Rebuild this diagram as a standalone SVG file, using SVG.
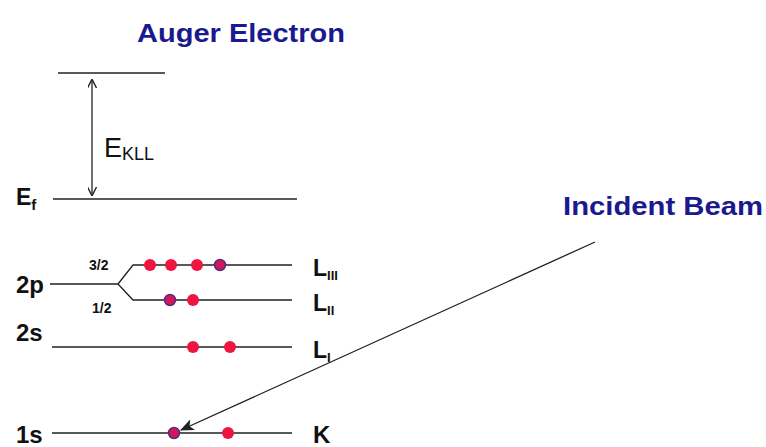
<svg xmlns="http://www.w3.org/2000/svg" width="766" height="447" viewBox="0 0 766 447">
<style>
.ln{stroke:#222;stroke-width:1.3;fill:none}
.t{font-family:"Liberation Sans",Arial,sans-serif;fill:#111}
.b{font-weight:bold}
.title{font-family:"Liberation Sans",Arial,sans-serif;font-weight:bold;fill:#1a1a8e;font-size:25px}
.e{fill:#ee1540}
.h{fill:#d0185a;stroke:#5a2a80;stroke-width:1.5}
</style>
<defs>
<marker id="ah" viewBox="0 0 10 10" refX="9" refY="5" markerWidth="9" markerHeight="9" markerUnits="userSpaceOnUse" orient="auto-start-reverse">
<path d="M0,0 L10,5 L0,10" fill="none" stroke="#222" stroke-width="1.5"/>
</marker>
<marker id="ah2" viewBox="0 0 12 10" refX="11" refY="5" markerWidth="14" markerHeight="12" markerUnits="userSpaceOnUse" orient="auto">
<path d="M0,0 L12,5 L0,10 L3,5 Z" fill="#222"/>
</marker>
</defs>
<rect width="766" height="447" fill="#fff"/>
<text class="title" x="137" y="42" textLength="208" lengthAdjust="spacingAndGlyphs">Auger Electron</text>
<text class="title" x="563" y="215" textLength="200" lengthAdjust="spacingAndGlyphs">Incident Beam</text>

<g id="vacuum"><line class="ln" x1="58" y1="73" x2="165" y2="73"/></g>
<g id="ef">
<line class="ln" x1="53" y1="199" x2="297" y2="199"/>
<text class="t b" x="16" y="205" font-size="23">E<tspan font-size="15" dy="5">f</tspan></text>
</g>
<g id="ekll">
<text class="t" x="104" y="157" font-size="27">E<tspan font-size="18" dy="3">KLL</tspan></text>
</g>
<g id="p2">
<text class="t b" x="16" y="293" font-size="24">2p</text>
<polyline class="ln" points="50,284 118,284 133,265 292,265"/>
<polyline class="ln" points="118,284 133,300 292,300"/>
<text class="t b" x="89" y="270" font-size="14">3/2</text>
<text class="t b" x="92" y="313" font-size="14">1/2</text>
<circle class="e" cx="150" cy="265" r="6"/>
<circle class="e" cx="171" cy="265" r="6"/>
<circle class="e" cx="197" cy="265" r="6"/>
<circle class="h" cx="220" cy="265" r="5.5"/>
<circle class="h" cx="170" cy="300" r="5.5"/>
<circle class="e" cx="193" cy="300" r="6"/>
<text class="t b" x="313" y="276" font-size="23">L<tspan font-size="13" dy="4">III</tspan></text>
<text class="t b" x="313" y="311" font-size="23">L<tspan font-size="13" dy="4">II</tspan></text>
</g>
<g id="s2">
<text class="t b" x="16" y="341" font-size="24">2s</text>
<line class="ln" x1="52" y1="347" x2="292" y2="347"/>
<circle class="e" cx="193" cy="347" r="6"/>
<circle class="e" cx="230" cy="347" r="6"/>
<text class="t b" x="313" y="358" font-size="23">L<tspan font-size="13" dy="4">I</tspan></text>
</g>
<g id="s1">
<text class="t b" x="16" y="443" font-size="24">1s</text>
<line class="ln" x1="52" y1="433" x2="292" y2="433"/>
<circle class="h" cx="174" cy="433" r="5.5"/>
<circle class="e" cx="228" cy="433" r="6"/>
<text class="t b" x="313" y="443" font-size="24">K</text>
</g>
<g id="connectors">
<line class="ln" x1="92" y1="80" x2="92" y2="195" marker-start="url(#ah)" marker-end="url(#ah)"/>
<line class="ln" x1="595" y1="242" x2="181" y2="430" marker-end="url(#ah2)"/>
</g>
</svg>
